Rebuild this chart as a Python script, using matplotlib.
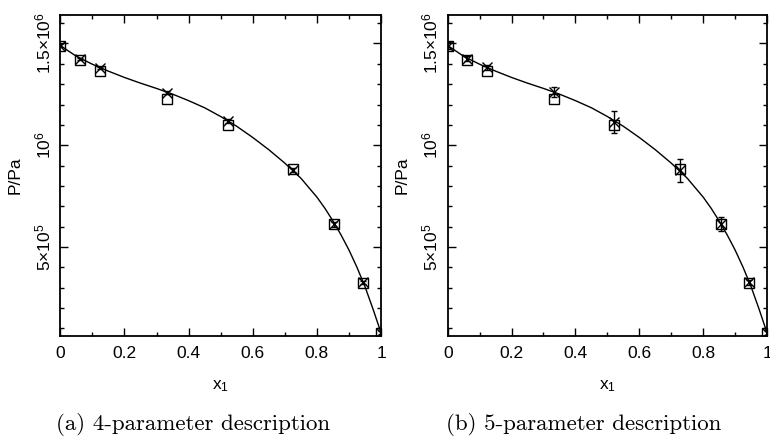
import matplotlib
matplotlib.use("Agg")
import matplotlib.pyplot as plt
from matplotlib.ticker import MultipleLocator

plt.rcParams["font.family"] = ["Liberation Sans", "DejaVu Sans"]
plt.rcParams["mathtext.fontset"] = "custom"
plt.rcParams["mathtext.rm"] = "Liberation Sans"
plt.rcParams["mathtext.default"] = "regular"

# ── Data ─────────────────────────────────────────────────────────────────────
x1 = [0.0, 0.061, 0.124, 0.332, 0.522, 0.727, 0.855, 0.945, 1.0]

# measured pressures (squares)
p_exp = [1.488e6, 1.418e6, 1.364e6, 1.225e6, 1.098e6, 0.884e6, 0.613e6, 0.322e6, 0.078e6]

# simulated pressures (crosses) with uncertainties
p_sim_a = [1.490e6, 1.425e6, 1.380e6, 1.259e6, 1.120e6, 0.877e6, 0.612e6, 0.325e6, 0.078e6]
err_a = [8e3, 6e3, 6e3, 8e3, 1.0e4, 1.0e4, 1.2e4, 8e3, 8e3]

p_sim_b = [1.490e6, 1.425e6, 1.382e6, 1.262e6, 1.115e6, 0.877e6, 0.612e6, 0.325e6, 0.078e6]
err_b = [1.5e4, 1.2e4, 1.2e4, 2.5e4, 5.4e4, 5.7e4, 3.3e4, 1.2e4, 1.2e4]

# fitted curve
x_curve = [0.0, 0.05, 0.1, 0.15, 0.2, 0.25, 0.3, 0.35, 0.4, 0.45, 0.5, 0.55,
           0.6, 0.65, 0.7, 0.75, 0.8, 0.825, 0.85, 0.875, 0.9, 0.925, 0.95,
           0.975, 1.0]
p_curve = [1.490e6, 1.437e6, 1.398e6, 1.364e6, 1.333e6, 1.305e6, 1.279e6,
           1.251e6, 1.219e6, 1.184e6, 1.141e6, 1.093e6, 1.038e6, 0.978e6,
           0.912e6, 0.838e6, 0.745e6, 0.690e6, 0.628e6, 0.560e6, 0.485e6,
           0.400e6, 0.305e6, 0.195e6, 0.078e6]

yticks = [5e5, 1e6, 1.5e6]
ytick_labels = [r"5×10$^{5}$", r"10$^{6}$", r"1.5×10$^{6}$"]
xticks = [0, 0.2, 0.4, 0.6, 0.8, 1.0]
xtick_labels = ["0", "0.2", "0.4", "0.6", "0.8", "1"]

captions = ["(a) 4-parameter description", "(b) 5-parameter description"]

W, H = 770, 437
fig = plt.figure(figsize=(W / 100, H / 100), dpi=100)


def panel(left_px, width_px, p_sim, err, caption, cap_x):
    ax = fig.add_axes([left_px / W, 1 - 336 / H, width_px / W, 321 / H])
    ax.plot(x_curve, p_curve, color="black", lw=1.0, zorder=2)
    ax.plot(x1, p_exp, ls="none", marker="s", ms=7, mfc="none", mec="black",
            mew=1.0, zorder=3)
    ax.errorbar(x1, p_sim, yerr=err, fmt="x", color="black", ms=7, mew=1.0,
                elinewidth=1.0, capsize=2.5, capthick=1.0, zorder=4)

    ax.set_xlim(0, 1)
    ax.set_ylim(6.2e4, 1.64e6)
    ax.set_xticks(xticks)
    ax.set_xticklabels(xtick_labels)
    ax.xaxis.set_minor_locator(MultipleLocator(0.1))
    ax.set_yticks(yticks)
    ax.set_yticklabels(ytick_labels, rotation=90, va="center")
    ax.yaxis.set_minor_locator(MultipleLocator(1e5))
    ax.tick_params(which="both", direction="in", top=True, right=True,
                   labelsize=12.5, width=1.0)
    ax.tick_params(axis="x", which="major", length=5.5, pad=7)
    ax.tick_params(axis="y", which="major", length=5.5, pad=5)
    ax.tick_params(which="minor", length=3.2)
    for s in ax.spines.values():
        s.set_linewidth(1.3)

    ax.set_xlabel("x$_1$", fontsize=12.5, labelpad=13)
    ax.set_ylabel("P/Pa", fontsize=12.5, labelpad=8)

    fig.text(cap_x / W, 1 - 425 / H, caption, ha="center", va="center",
             fontsize=16.5, family="cmr10")
    return ax


panel(60.3, 320.7, p_sim_a, err_a, captions[0], 193)
panel(447.7, 319.3, p_sim_b, err_b, captions[1], 584)

fig.savefig("out.png", dpi=100, facecolor="white")
